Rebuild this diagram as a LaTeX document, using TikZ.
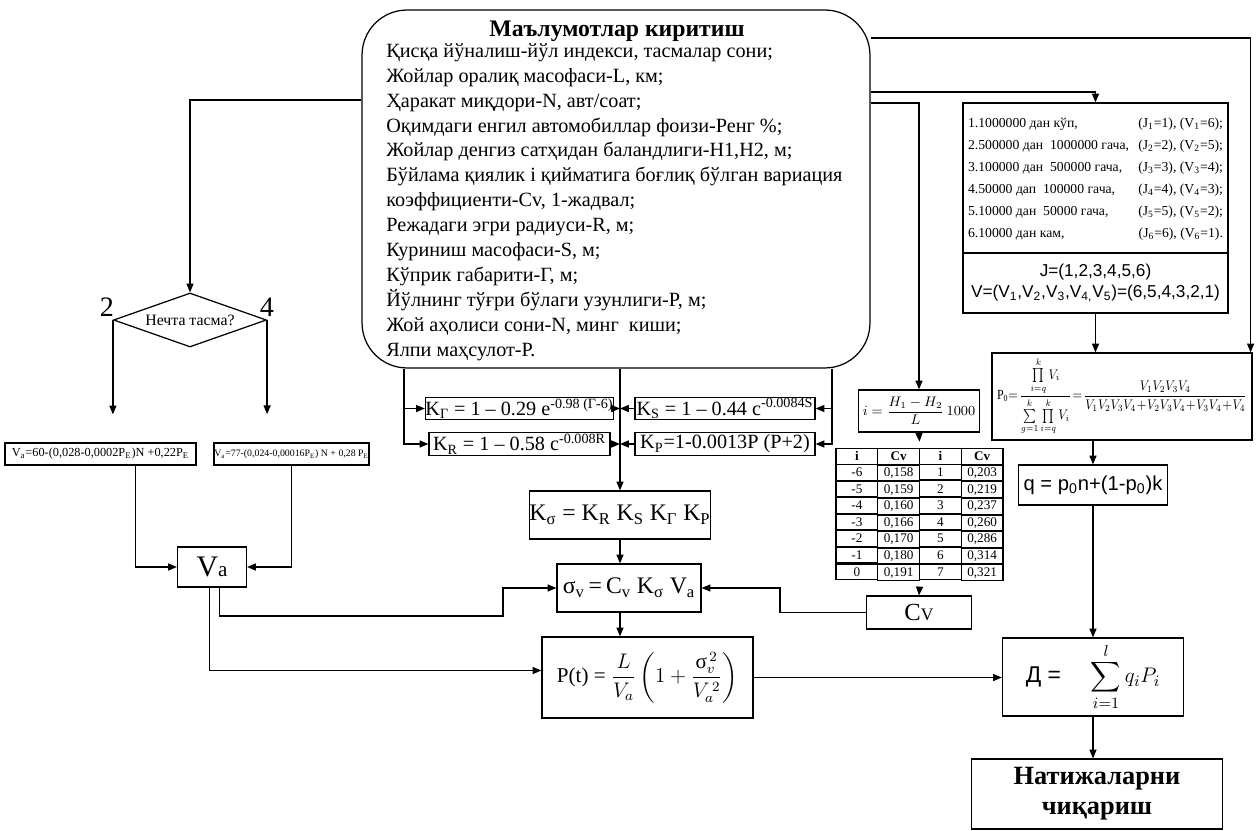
\documentclass[tikz,border=0pt]{standalone}
\usepackage{amsmath}
\usepackage{graphicx}
\usepackage{fontspec}
\setmainfont{Liberation Serif}
\newfontfamily\arialfont{Liberation Sans}
\usetikzlibrary{arrows.meta, shapes.geometric, matrix}

\begin{document}
\begin{tikzpicture}[x=0.02cm, y=-0.02cm,
    box/.style={draw, line width=0.7pt, inner sep=0pt, align=center},
    arr/.style={line width=0.7pt, -{Triangle[length=5pt,width=4pt]}},
    kbox/.style={box, minimum width=3.62cm, minimum height=0.45cm, font=\fontsize{11.5}{12}\selectfont},
    cell/.style={draw, line width=0.6pt, minimum width=0.835cm, minimum height=0.3125cm, inner sep=0pt, font=\fontsize{7.5}{8}\selectfont}]
\useasboundingbox (0,0) rectangle (1258,831);

% input data
\node[box, rounded corners=0.9cm, minimum width=10.16cm, minimum height=7.16cm] (input) at (616,189) {};
\node[font=\fontsize{13.5}{16}\selectfont\bfseries] (inputtitle) at (617,31) {Маълумотлар киритиш};
\node[anchor=north west, inner sep=0pt, align=left, font=\fontsize{11.5}{14.2}\selectfont] (inputlist) at (386,43) {Қисқа йўналиш-йўл индекси, тасмалар сони;\\
Жойлар оралиқ масофаси-L, км;\\
Ҳаракат миқдори-N, авт/соат;\\
Оқимдаги енгил автомобиллар фоизи-Ренг \%;\\
Жойлар денгиз сатҳидан баландлиги-H1,H2, м;\\
Бўйлама қиялик і қийматига боғлиқ бўлган вариация\\
коэффициенти-Cv, 1-жадвал;\\
Режадаги эгри радиуси-R, м;\\
Куриниш масофаси-S, м;\\
Кўприк габарити-Г, м;\\
Йўлнинг тўғри бўлаги узунлиги-P, м;\\
Жой аҳолиси сони-N, минг~~киши;\\
Ялпи маҳсулот-Р.};

% lanes
\node[draw, diamond, line width=0.7pt, aspect=2.8, minimum width=3.06cm, minimum height=1.08cm, inner sep=0pt, font=\fontsize{9}{10}\selectfont] (lanes) at (190,320) {Нечта тасма?};
\node[font=\fontsize{16}{16}\selectfont] (lbltwo) at (107,307) {2};
\node[font=\fontsize{16}{16}\selectfont] (lblfour) at (267,307) {4};
\node[box, minimum width=3.82cm, minimum height=0.44cm, font=\fontsize{7}{8}\selectfont] (vbox2) at (100.5,454) {V\textsubscript{a}=60-(0,028-0,0002P\textsubscript{E})N +0,22P\textsubscript{E}};
\node[box, line width=0.9pt, minimum width=2.94cm, minimum height=0.44cm, font=\fontsize{5.6}{7}\selectfont] (vbox4) at (291.5,454) {V\textsubscript{a}=77-(0,024-0,00016P\textsubscript{E}) N + 0,28 P\textsubscript{E}};
\node[box, minimum width=1.38cm, minimum height=0.8cm, font=\fontsize{17}{17}\selectfont] (va) at (212,567) {V{\fontsize{12}{12}\selectfont a}};

% coefficients
\node[kbox] (kg) at (519.5,408.5) {K\textsubscript{Г} = 1 – 0.29 e\textsuperscript{-0.98 (Г-6)}};
\node[kbox] (kr) at (519.5,444) {K\textsubscript{R} = 1 – 0.58 c\textsuperscript{-0.008R}};
\node[kbox, minimum width=3.6cm] (ks) at (725,408.5) {K\textsubscript{S} = 1 – 0.44 c\textsuperscript{-0.0084S}};
\node[kbox, minimum width=3.6cm] (kp) at (725,444) {K\textsubscript{P}=1-0.0013P (P+2)};
\node[box, minimum width=3.6cm, minimum height=0.96cm, font=\fontsize{13.5}{14}\selectfont] (ksig) at (620,515) {K\textsubscript{σ} = K\textsubscript{R} K\textsubscript{S} K\textsubscript{Г} K\textsubscript{P}};
\node[box, minimum width=2.88cm, minimum height=0.96cm, font=\fontsize{13.5}{14}\selectfont] (sigv) at (629,588) {σ\textsubscript{v}\,=\,C\textsubscript{v} K\textsubscript{σ} V\textsubscript{a}};
\node[box, minimum width=4.22cm, minimum height=1.62cm, font=\fontsize{12}{13}\selectfont] (pt) at (647.5,677.5) {P(t) = $\dfrac{L}{V_a}\left(1+\dfrac{\mbox{σ}_v^{\,2}}{V_a^{\,2}}\right)$};

% slope and variation
\node[box, minimum width=2.42cm, minimum height=0.84cm, font=\fontsize{9}{10}\selectfont] (ibox) at (919,411) {\resizebox{2.25cm}{!}{$i=\dfrac{H_1-H_2}{L}\,1000$}};
\matrix[matrix of nodes, nodes={cell}, column sep=-0.6pt, row sep=-0.6pt] (tbl) at (919.5,514.5) {
\textbf{i} & \textbf{Cv} & \textbf{i} & \textbf{Cv} \\
-6 & 0,158 & 1 & 0,203 \\
-5 & 0,159 & 2 & 0,219 \\
-4 & 0,160 & 3 & 0,237 \\
-3 & 0,166 & 4 & 0,260 \\
-2 & 0,170 & 5 & 0,286 \\
-1 & 0,180 & 6 & 0,314 \\
0 & 0,191 & 7 & 0,321 \\
};
\node[box, minimum width=2.1cm, minimum height=0.66cm, font=\fontsize{14}{14}\selectfont] (cv) at (919,612.5) {C{\fontsize{10}{10}\selectfont V}};

% population classes
\node[box, minimum width=5.3cm, minimum height=3.0cm, font=\fontsize{7.8}{12.5}\selectfont] (jvtop) at (1095.5,178) {\begin{tabular*}{5.1cm}{@{}l@{\extracolsep{\fill}}r@{}}
1.1000000 дан кўп, & (J\textsubscript{1}=1), (V\textsubscript{1}=6);\\
2.500000 дан~ 1000000 гача, & (J\textsubscript{2}=2), (V\textsubscript{2}=5);\\
3.100000 дан~ 500000 гача, & (J\textsubscript{3}=3), (V\textsubscript{3}=4);\\
4.50000 дап~ 100000 гача, & (J\textsubscript{4}=4), (V\textsubscript{4}=3);\\
5.10000 дан~ 50000 гача, & (J\textsubscript{5}=5), (V\textsubscript{5}=2);\\
6.10000 дан кам, & (J\textsubscript{6}=6), (V\textsubscript{6}=1).
\end{tabular*}};
\node[box, minimum width=5.3cm, minimum height=1.2cm, font=\arialfont\fontsize{9.8}{12}\selectfont] (jvbot) at (1095.5,283) {J=(1,2,3,4,5,6)\\V=(V\textsubscript{1},V\textsubscript{2},V\textsubscript{3},V\textsubscript{4,}V\textsubscript{5})=(6,5,4,3,2,1)};
\node[box, minimum width=5.2cm, minimum height=1.74cm, font=\fontsize{9}{10}\selectfont] (p0) at (1122,396.5) {\resizebox*{5.0cm}{1.55cm}{P\textsubscript{0}$=\!\dfrac{\prod\limits_{i=q}^{k}V_i}{\sum\limits_{g=1}^{k}\prod\limits_{i=q}^{k}V_i}\!=\!\dfrac{V_1V_2V_3V_4}{V_1V_2V_3V_4\!+\!V_2V_3V_4\!+\!V_3V_4\!+\!V_4}$}};
\node[box, minimum width=2.98cm, minimum height=0.8cm, font=\arialfont\fontsize{11.5}{13}\selectfont] (q) at (1093,485) {q = p\textsubscript{0}n+(1-p\textsubscript{0})k};
\node[box, minimum width=3.62cm, minimum height=1.56cm, font=\fontsize{13}{14}\selectfont] (dbox) at (1093,677) {{\arialfont Д =}\hspace{0.6cm}$\displaystyle\sum_{i=1}^{l}q_iP_i$};
\node[box, minimum width=5.02cm, minimum height=1.4cm, font=\fontsize{15}{17}\selectfont\bfseries] (out) at (1097,794) {Натижаларни\\чиқариш};

% connectors
\coordinate (lfeed) at (404,0);
\coordinate (rfeed) at (832,0);
\coordinate (vaturn) at (503,616);
\coordinate (cvturn) at (780,600);
\draw[arr] ([yshift=1.78cm]input.west) -| (lanes.north);
\draw[arr, shorten >=0.56cm] (lanes.west) -- (lanes.west |- vbox2.north);
\draw[arr, shorten >=0.56cm] (lanes.east) -- (lanes.east |- vbox4.north);
\draw[arr] ([xshift=0.7cm]vbox2.south) |- (va.west);
\draw[arr] (vbox4.south) |- (va.east);
\draw[arr] ([xshift=0.15cm]va.south) |- (vaturn) |- (sigv.west);
\draw[arr] ([xshift=-0.05cm]va.south) |- ([yshift=0.14cm]pt.west);
\draw[arr] (input.south -| lfeed) |- (kg.west);
\draw[arr] (input.south -| lfeed) |- (kr.west);
\draw[arr] (input.south -| rfeed) |- (ks.east);
\draw[arr] (input.south -| rfeed) |- (kp.east);
\draw[arr] (input.south -| ksig.north) -- (ksig.north);
\draw[arr] (kg.east) -- (kg.east -| ksig.north);
\draw[arr] (ks.west) -- (ks.west -| ksig.north);
\draw[arr] (kr.east) -- (kr.east -| ksig.north);
\draw[arr] (kp.west) -- (kp.west -| ksig.north);
\draw[arr] (ksig.south) -- (ksig.south |- sigv.north);
\draw[arr] (sigv.south -| ksig.south) -- (pt.north -| ksig.south);
\draw[arr] (cv.west) -| (cvturn) |- (sigv.east);
\draw[arr] ([yshift=1.72cm]input.east) -| (ibox.north);
\draw[arr] (ibox.south) -- (tbl.north);
\draw[arr] (tbl.south) -- (cv.north);
\draw[arr] ([yshift=1.94cm]input.east) -| (jvtop.north);
\draw[arr] ([yshift=3.02cm]input.east) -| ([xshift=-0.04cm]p0.north east);
\draw[arr] (jvbot.south) -- (jvbot.south |- p0.north);
\draw[arr] (p0.south -| q.north) -- (q.north);
\draw[arr] (q.south) -- (dbox.north);
\draw[arr] (pt.east) -- (pt.east -| dbox.west);
\draw[arr] (dbox.south) -- (dbox.south |- out.north);
\end{tikzpicture}
\end{document}
